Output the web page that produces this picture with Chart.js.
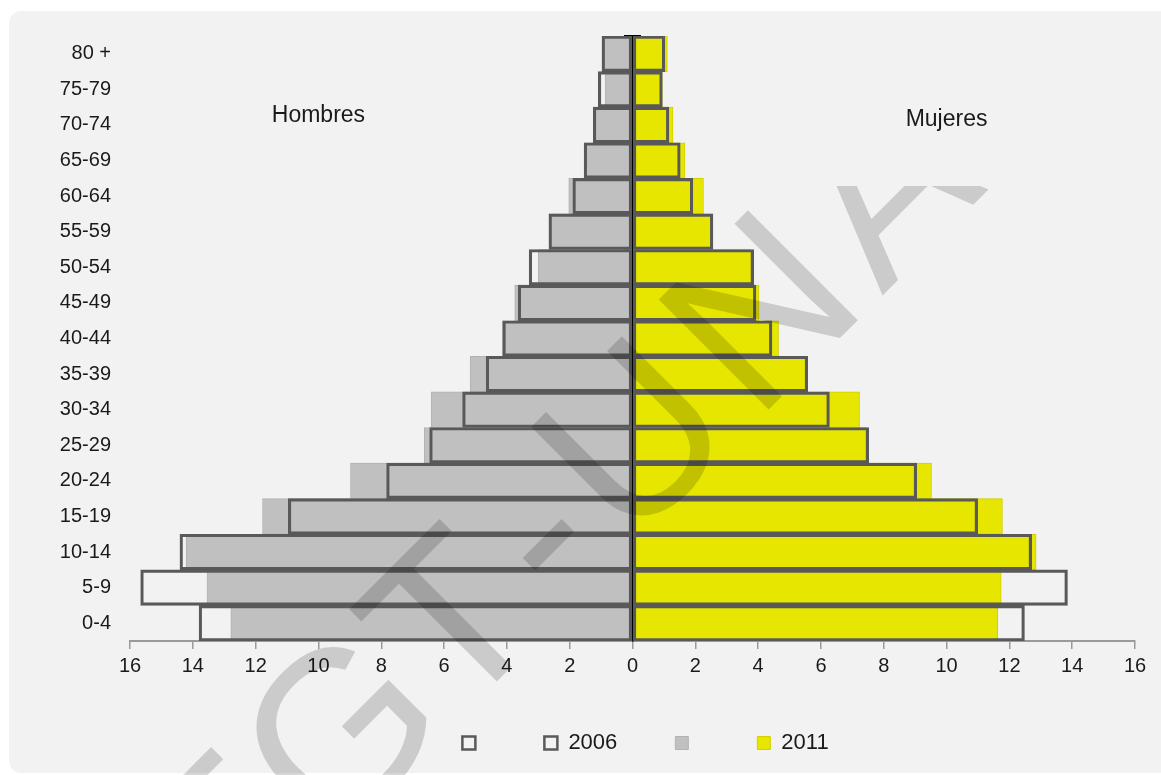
<!DOCTYPE html>
<html>
<head>
<meta charset="utf-8">
<script src="https://cdn.jsdelivr.net/npm/chart.js@4.4.0/dist/chart.umd.min.js"></script>
<style>
  html, body { margin: 0; padding: 0; background: #ffffff; }
  #marco { position: relative; width: 1161px; height: 775px; overflow: hidden; }
  #panel { position: absolute; left: 9px; top: 11px; width: 1164px; height: 762px; background: #f2f2f2; border-radius: 12px; }
  canvas { position: absolute; left: 0; top: 0; }
</style>
</head>
<body>
<div id="marco">
  <div id="panel"></div>
  <canvas id="piramide" width="1161" height="775"></canvas>
</div>
<script>
// grupos de edad, de arriba hacia abajo
const grupos = ['80 +', '75-79', '70-74', '65-69', '60-64', '55-59', '50-54', '45-49', '40-44',
                '35-39', '30-34', '25-29', '20-24', '15-19', '10-14', '5-9', '0-4'];

// porcentajes
const hombres2006 = [0.97, 1.09, 1.25, 1.54, 1.90, 2.66, 3.29, 3.64, 4.13, 4.66, 5.41, 6.46, 7.83, 10.96, 14.41, 15.66, 13.80];
const hombres2011 = [0.97, 0.87, 1.25, 1.54, 2.03, 2.66, 3.00, 3.75, 4.15, 5.17, 6.41, 6.63, 8.98, 11.78, 14.21, 13.55, 12.79];
const mujeres2006 = [1.03, 0.95, 1.16, 1.52, 1.92, 2.56, 3.86, 3.93, 4.44, 5.58, 6.27, 7.52, 9.05, 10.99, 12.71, 13.85, 12.48];
const mujeres2011 = [1.11, 0.95, 1.29, 1.67, 2.26, 2.56, 3.77, 4.03, 4.65, 5.58, 7.23, 7.45, 9.52, 11.78, 12.85, 11.74, 11.63];

const FUENTE = "'Liberation Sans', Arial, sans-serif";
const TEXTO = '#1a1a1a';

// textos "Hombres" / "Mujeres"
const rotulos = {
    id: 'rotulos',
    afterDraw(chart) {
        const { ctx, scales: { x, y } } = chart;
        ctx.save();
        ctx.font = '23px ' + FUENTE;
        ctx.fillStyle = TEXTO;
        ctx.textAlign = 'center';
        ctx.textBaseline = 'middle';
        ctx.fillText('Hombres', x.getPixelForValue(-10), y.getPixelForValue(1.75));
        ctx.fillText('Mujeres', x.getPixelForValue(10), y.getPixelForValue(1.85));
        ctx.restore();
    }
};

// marca de agua diagonal, letra por letra
const marcaAgua = {
    id: 'marcaAgua',
    afterDraw(chart) {
        const ctx = chart.ctx;
        ctx.save();
        ctx.beginPath();
        ctx.rect(0, 186, chart.width, chart.height - 186);
        ctx.clip();
        ctx.rotate(-Math.PI / 4);
        ctx.font = '226px ' + FUENTE;
        ctx.fillStyle = 'rgba(0,0,0,0.16)';
        ctx.textBaseline = 'alphabetic';
        ctx.textAlign = 'left';
        const esp = 16, base = 833, inicio = -189;
        let lx = inicio;
        for (const c of 'T-UNAH') {
            ctx.fillText(c, lx, base);
            lx += ctx.measureText(c).width + esp;
        }
        lx = inicio;
        for (const c of 'GE') {
            lx -= ctx.measureText(c).width;
            ctx.fillText(c, lx, base);
        }
        ctx.restore();
    }
};

// correr un poco la leyenda hacia la derecha
const moverLeyenda = {
    id: 'moverLeyenda',
    afterLayout(chart) {
        if (chart.legend) {
            chart.legend.left += 13;
            chart.legend.right += 13;
        }
    }
};

const ctx = document.getElementById('piramide').getContext('2d');

const ejeCentro = (largo, borde) => ({
    type: 'category',
    axis: 'y',
    position: { x: 0 },
    offset: true,
    z: 1,
    grid: { offset: true, drawOnChartArea: false, drawTicks: true, tickLength: largo, color: '#000000', lineWidth: 1.5 },
    border: borde ? { color: '#000000', width: 2 } : { display: false },
    ticks: { display: false }
});

new Chart(ctx, {
    type: 'bar',
    data: {
        labels: grupos,
        datasets: [
            {
                label: '',
                data: hombres2006.map(v => -v),
                backgroundColor: 'rgba(0,0,0,0)',
                borderColor: '#595959',
                borderWidth: 2.5,
                borderSkipped: false
            },
            {
                label: '2006',
                data: mujeres2006,
                backgroundColor: 'rgba(0,0,0,0)',
                borderColor: '#595959',
                borderWidth: 2.5,
                borderSkipped: false
            },
            {
                label: '',
                data: hombres2011.map(v => -v),
                backgroundColor: '#c0c0c0',
                borderColor: '#b2b2b2',
                borderWidth: 1,
                borderSkipped: false
            },
            {
                label: '2011',
                data: mujeres2011,
                backgroundColor: '#e6e600',
                borderColor: '#d0d000',
                borderWidth: 1,
                borderSkipped: false
            }
        ]
    },
    options: {
        indexAxis: 'y',
        responsive: false,
        animation: false,
        datasets: {
            bar: { grouped: false, barPercentage: 1, categoryPercentage: 1 }
        },
        layout: { padding: { top: 36, right: 26, left: 0, bottom: 11 } },
        scales: {
            x: {
                type: 'linear',
                min: -16,
                max: 16,
                ticks: {
                    stepSize: 2,
                    autoSkip: false,
                    maxRotation: 0,
                    padding: 5,
                    color: TEXTO,
                    font: { family: FUENTE, size: 20 },
                    callback: v => Math.abs(v)
                },
                grid: { drawOnChartArea: false, drawTicks: true, tickLength: 8, color: '#9a9a9a', lineWidth: 1.5 },
                border: { color: '#9a9a9a', width: 2 },
                afterFit: s => { s.height = 33; }
            },
            y: {
                type: 'category',
                position: 'left',
                offset: true,
                grid: { display: false },
                border: { display: false },
                ticks: { padding: 11, color: TEXTO, font: { family: FUENTE, size: 20 } },
                afterFit: s => { s.width = 130; }
            },
            centroIzq: ejeCentro(8, true),
            centroDer: ejeCentro(-8, false)
        },
        plugins: {
            legend: {
                position: 'bottom',
                fullSize: false,
                labels: {
                    boxWidth: 13,
                    boxHeight: 13,
                    padding: 58,
                    color: TEXTO,
                    font: { family: FUENTE, size: 22 }
                }
            },
            tooltip: { enabled: false }
        }
    },
    plugins: [rotulos, marcaAgua, moverLeyenda]
});
</script>
</body>
</html>
